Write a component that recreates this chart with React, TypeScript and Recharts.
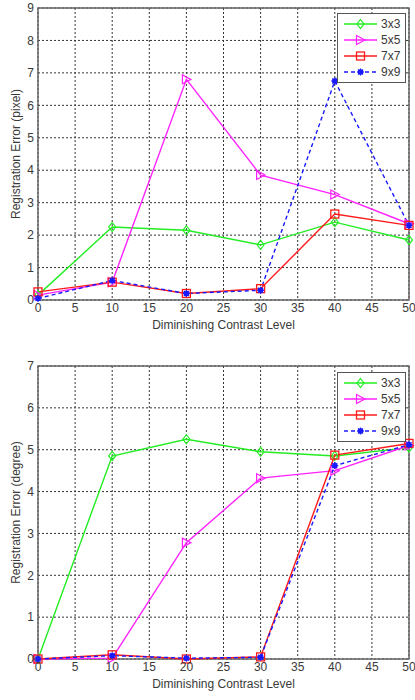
import React from "react"
import {
    LineChart,
    Line,
    XAxis,
    YAxis,
    CartesianGrid,
    ReferenceArea,
} from "recharts"

// contrast levels on the x axis
const levels = [0, 10, 20, 30, 40, 50]
const xTicks = [0, 5, 10, 15, 20, 25, 30, 35, 40, 45, 50]

// top panel: registration error in pixels
const pixel3x3 = [0.15, 2.25, 2.15, 1.7, 2.4, 1.85]
const pixel5x5 = [0.15, 0.55, 6.8, 3.85, 3.25, 2.35]
const pixel7x7 = [0.25, 0.55, 0.2, 0.35, 2.65, 2.3]
const pixel9x9 = [0.05, 0.6, 0.2, 0.3, 6.75, 2.3]
const pixelTicks = [0, 1, 2, 3, 4, 5, 6, 7, 8, 9]

// bottom panel: registration error in degrees
const degree3x3 = [0, 4.85, 5.25, 4.95, 4.85, 5.05]
const degree5x5 = [0, 0.02, 2.78, 4.32, 4.5, 5.1]
const degree7x7 = [0, 0.1, 0.0, 0.05, 4.87, 5.15]
const degree9x9 = [0, 0.08, 0.02, 0.04, 4.62, 5.12]
const degreeTicks = [0, 1, 2, 3, 4, 5, 6, 7]

const seriesNames = ["3x3", "5x5", "7x7", "9x9"]

const FONT = "'Liberation Sans', Arial, sans-serif"
const TEXT = "#3a3a3a"

type MarkerKind = "diamond" | "triangle" | "square" | "star"

const series: { key: string; name: string; color: string; kind: MarkerKind; dash?: string }[] = [
    { key: "s3", name: seriesNames[0], color: "#22ee22", kind: "diamond" },
    { key: "s5", name: seriesNames[1], color: "#ff22ff", kind: "triangle" },
    { key: "s7", name: seriesNames[2], color: "#ff1a1a", kind: "square" },
    { key: "s9", name: seriesNames[3], color: "#1a1aff", kind: "star", dash: "4 3" },
]

function Marker({ kind, cx, cy, color }: { kind: MarkerKind; cx: number; cy: number; color: string }) {
    if (cx == null || cy == null) return null
    if (kind === "diamond") {
        return (
            <polygon
                points={`${cx},${cy - 4.5} ${cx + 3.5},${cy} ${cx},${cy + 4.5} ${cx - 3.5},${cy}`}
                fill="none"
                stroke={color}
                strokeWidth={1.2}
            />
        )
    }
    if (kind === "triangle") {
        return (
            <polygon
                points={`${cx - 4},${cy - 4.5} ${cx + 4.5},${cy} ${cx - 4},${cy + 4.5}`}
                fill="none"
                stroke={color}
                strokeWidth={1.2}
            />
        )
    }
    if (kind === "square") {
        return <rect x={cx - 4} y={cy - 4} width={8} height={8} fill="none" stroke={color} strokeWidth={1.3} />
    }
    return (
        <g stroke={color} strokeWidth={1.3}>
            <line x1={cx - 3.5} y1={cy} x2={cx + 3.5} y2={cy} />
            <line x1={cx} y1={cy - 3.5} x2={cx} y2={cy + 3.5} />
            <line x1={cx - 2.5} y1={cy - 2.5} x2={cx + 2.5} y2={cy + 2.5} />
            <line x1={cx - 2.5} y1={cy + 2.5} x2={cx + 2.5} y2={cy - 2.5} />
            <circle cx={cx} cy={cy} r={2} fill={color} />
        </g>
    )
}

function LegendBox({ top }: { top: number }) {
    return (
        <div
            style={{
                position: "absolute",
                left: 337,
                top,
                width: 69,
                height: 70,
                boxSizing: "border-box",
                border: "1.5px solid #555",
                background: "#fff",
            }}
        >
            <svg width={66} height={67} style={{ display: "block" }}>
                {series.map((s, i) => {
                    const y = 10 + i * 16
                    return (
                        <g key={s.key}>
                            <line x1={6} y1={y} x2={39} y2={y} stroke={s.color} strokeWidth={1.5} strokeDasharray={s.dash} />
                            <Marker kind={s.kind} cx={22.5} cy={y} color={s.color} />
                            <text x={43} y={y + 4} fontSize={12} fill={TEXT} fontFamily={FONT}>
                                {s.name}
                            </text>
                        </g>
                    )
                })}
            </svg>
        </div>
    )
}

interface PanelProps {
    values: number[][]
    yTicks: number[]
    yMax: number
    yLabel: string
    height: number
    top: number
    bottom: number
}

function Panel({ values, yTicks, yMax, yLabel, height, top, bottom }: PanelProps) {
    const data = levels.map((lv, i) => ({
        level: lv,
        s3: values[0][i],
        s5: values[1][i],
        s7: values[2][i],
        s9: values[3][i],
    }))
    return (
        <LineChart width={415} height={height} data={data} margin={{ top, right: 6, left: 8, bottom }}>
            <CartesianGrid stroke="#333" strokeDasharray="2 2" />
            <ReferenceArea x1={0} x2={50} y1={0} y2={yMax} fill="none" stroke="#666" strokeWidth={1.5} />
            <XAxis
                dataKey="level"
                type="number"
                domain={[0, 50]}
                ticks={xTicks}
                height={20}
                tickLine={false}
                axisLine={false}
                tickSize={0}
                tickMargin={3}
                tick={{ fill: TEXT, fontSize: 12, fontFamily: FONT }}
                label={{
                    value: "Diminishing Contrast Level",
                    position: "bottom",
                    offset: 0,
                    style: { fill: TEXT, fontSize: 12, fontFamily: FONT },
                }}
            />
            <YAxis
                type="number"
                domain={[0, yMax]}
                ticks={yTicks}
                width={30}
                tickLine={false}
                axisLine={false}
                tickSize={0}
                tickMargin={4}
                tick={{ fill: TEXT, fontSize: 12, fontFamily: FONT }}
                label={{
                    value: yLabel,
                    angle: -90,
                    position: "insideLeft",
                    offset: 8,
                    style: { fill: TEXT, fontSize: 12, fontFamily: FONT, textAnchor: "middle" },
                }}
            />
            {series.map((s) => (
                <Line
                    key={s.key}
                    dataKey={s.key}
                    name={s.name}
                    stroke={s.color}
                    strokeWidth={1.4}
                    strokeDasharray={s.dash}
                    isAnimationActive={false}
                    dot={(p: any) => (
                        <Marker key={`${s.key}-${p.index}`} kind={s.kind} cx={p.cx} cy={p.cy} color={s.color} />
                    )}
                    activeDot={false}
                />
            ))}
        </LineChart>
    )
}

export default function App() {
    return (
        <div style={{ position: "absolute", left: 0, top: 0, width: 415, height: 700, background: "#fff" }}>
            <div style={{ position: "absolute", left: 0, top: 0 }}>
                <Panel
                    values={[pixel3x3, pixel5x5, pixel7x7, pixel9x9]}
                    yTicks={pixelTicks}
                    yMax={9}
                    yLabel="Registration Error (pixel)"
                    height={340}
                    top={8}
                    bottom={20}
                />
            </div>
            <LegendBox top={13} />
            <div style={{ position: "absolute", left: 0, top: 350 }}>
                <Panel
                    values={[degree3x3, degree5x5, degree7x7, degree9x9]}
                    yTicks={degreeTicks}
                    yMax={7}
                    yLabel="Registration Error (degree)"
                    height={350}
                    top={16}
                    bottom={21}
                />
            </div>
            <LegendBox top={372} />
        </div>
    )
}
